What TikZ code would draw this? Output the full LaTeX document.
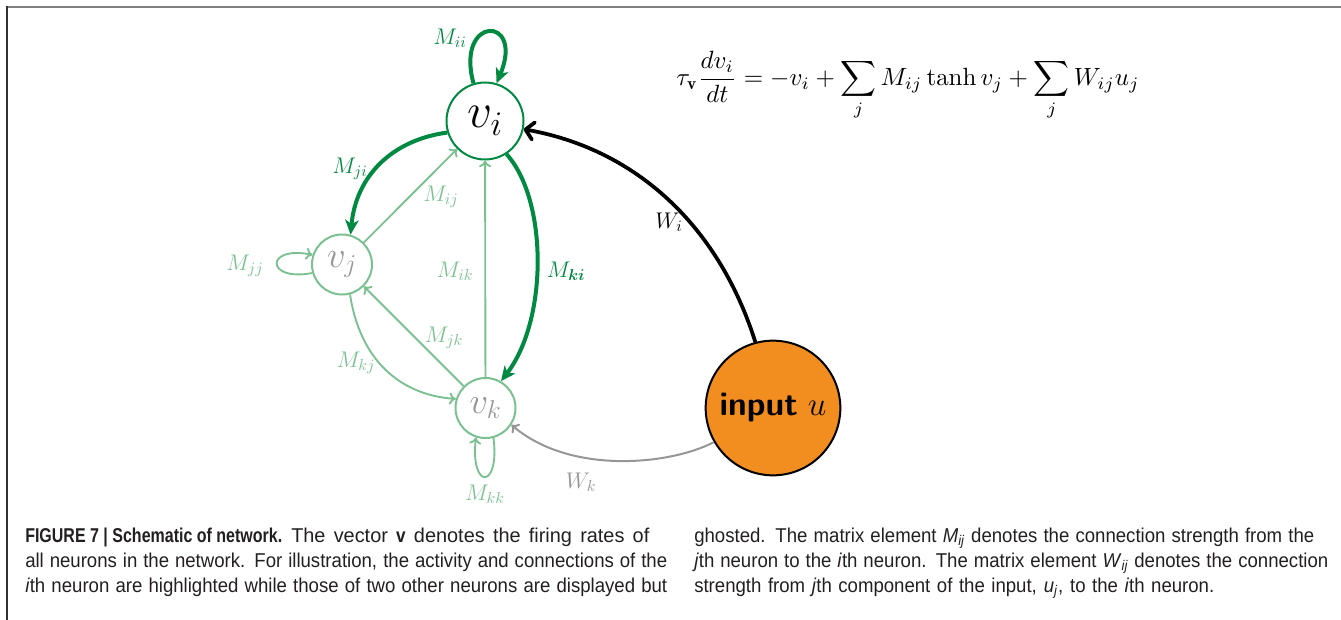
\RequirePackage{fix-cm}
\documentclass[tikz,border=0pt]{standalone}
\usepackage{fontspec}
\usepackage{bm}
\usetikzlibrary{arrows.meta}
\newfontfamily\capfont{Liberation Sans}[FakeStretch=0.93]
\newfontfamily\capbold{Liberation Sans}[FakeStretch=0.80]
\newcommand{\capline}[2]{\makebox[#1][s]{#2}}
\newcommand{\capb}[1]{{\capbold\bfseries #1}}
\definecolor{dgreen}{RGB}{0,137,64}
\definecolor{lgreen}{RGB}{122,192,145}
\definecolor{wgray}{RGB}{150,150,150}
\definecolor{vgray}{RGB}{150,150,150}
\definecolor{inorange}{RGB}{242,141,31}
\definecolor{framegray}{RGB}{128,128,128}
\definecolor{framedark}{RGB}{50,50,50}
\definecolor{captext}{RGB}{35,31,32}
\tikzset{
  bigneuron/.style={circle, draw=dgreen, line width=1.5pt, minimum size=57.75pt, inner sep=0pt, font=\fontsize{37}{42}\selectfont},
  smallneuron/.style={circle, draw=lgreen, line width=1.5pt, minimum size=45pt, inner sep=0pt, text=vgray, font=\fontsize{27.5}{32}\selectfont},
  inputnode/.style={circle, draw=black, fill=inorange, line width=1.5pt, minimum size=101pt, inner sep=0pt, font=\fontsize{25}{30}\selectfont},
  thickg/.style={draw=dgreen, line width=3pt, -{Stealth[length=11pt,width=10pt,inset=3pt]}},
  thing/.style={draw=lgreen, line width=1.4pt, -{To[length=5pt,width=9pt]}},
  inarrow/.style={draw=black, line width=2.8pt, -{Straight Barb[round,length=6pt,width=13pt]}},
  grayarrow/.style={draw=wgray, line width=1.5pt, -{To[length=5pt,width=9pt]}},
  lab/.style={inner sep=0pt, font=\fontsize{17}{20}\selectfont},
  eqstyle/.style={inner sep=0pt},
  captionline/.style={anchor=base west, inner sep=0pt, text=captext, font=\capfont\fontsize{15}{17}\selectfont},
}
\begin{document}
\begin{tikzpicture}[x=0.75pt,y=-0.75pt]
\useasboundingbox (0,0) rectangle (1341,620);
% frame
\draw[framegray, line width=1.5pt] (6,7) -- (1341,7);
\draw[framedark, line width=1.5pt] (7,6) -- (7,620);

% neurons
\node[bigneuron] (vi) at (485,121) {$v_i$};
\node[smallneuron] (vj) at (342,264.5) {$v_j$};
\node[smallneuron] (vk) at (485.5,408) {$v_k$};
\node[inputnode] (in) at (773,408) {\textsf{\bfseries input}~$u$};

% ghosted connections
\draw[thing] (vj) -- (vi);
\draw[thing] (vk) -- (vi);
\draw[thing] (vk) -- (vj);
\draw[thing] (vj.285) .. controls (360,360) and (400,395) .. (vk.163);
\draw[thing] (vj.196) .. controls (265,282) and (265,245) .. (vj.162);
\draw[thing] (vk.-75) .. controls (500,490) and (470,490) .. (vk.-108);
\draw[grayarrow] (in.210) .. controls (670,465) and (570,475) .. (vk.-33);

% highlighted connections
\draw[thickg] (vi.107) .. controls (455,15) and (525,15) .. (vi.73);
\draw[thickg] (vi.197) .. controls (392,140) and (356,176) .. (vj.74);
\draw[thickg] (vi.-57) .. controls (548,200) and (548,320) .. (vk.60);
\draw[inarrow] (in.105) .. controls (720,230) and (640,150) .. (vi.-12);

% labels
\node[lab, text=dgreen] (lii) at (450,38) {$M_{ii}$};
\node[lab, text=dgreen] (lji) at (350,169) {$M_{ji}$};
\node[lab, text=lgreen] (lij) at (441,197) {$M_{ij}$};
\node[lab, text=lgreen] (lik) at (455,271) {$M_{ik}$};
\node[lab, text=dgreen] (lki) at (566,271) {$M_{\bm{ki}}$};
\node[lab, text=lgreen] (ljj) at (245,266) {$M_{jj}$};
\node[lab, text=lgreen] (lkj) at (356,363) {$M_{kj}$};
\node[lab, text=lgreen] (ljk) at (444,338) {$M_{jk}$};
\node[lab, text=lgreen] (lkk) at (485,494) {$M_{kk}$};
\node[lab] (lwi) at (669,222) {$W_i$};
\node[lab, text=wgray] (lwk) at (581,482) {$W_k$};

% equation
\node[eqstyle] (eq) at (908,86) {\scalebox{1.87}{$\displaystyle \tau_{\mathbf{v}}\frac{dv_i}{dt} = -v_i + \sum_j M_{ij}\tanh v_j + \sum_j W_{ij} u_j$}};

% caption
\node[captionline] (c1a) at (25,542) {\capb{FIGURE 7 | Schematic of network.}};
\node[captionline] (c1b) at (291,542) {\scalebox{1.07}[1]{\capline{251pt}{The vector \capb{v} denotes the firing rates of}}};
\node[captionline] (c2) at (25,567) {\capline{481.5pt}{all neurons in the network. For illustration, the activity and connections of the}};
\node[captionline] (c3) at (25,592) {\capline{481.5pt}{\textit{i}th neuron are highlighted while those of two other neurons are displayed but}};
\node[captionline] (c4) at (694,542) {\capline{465pt}{ghosted. The matrix element \textit{M}\textsubscript{\textit{ij}} denotes the connection strength from the}};
\node[captionline] (c5) at (694,567) {\capline{475.5pt}{\textit{j}th neuron to the \textit{i}th neuron. The matrix element \textit{W}\textsubscript{\textit{ij}} denotes the connection}};
\node[captionline] (c6) at (694,592) {\capline{390pt}{strength from \textit{j}th component of the input, \textit{u}\textsubscript{\textit{j}}, to the \textit{i}th neuron.}};
\end{tikzpicture}
\end{document}
